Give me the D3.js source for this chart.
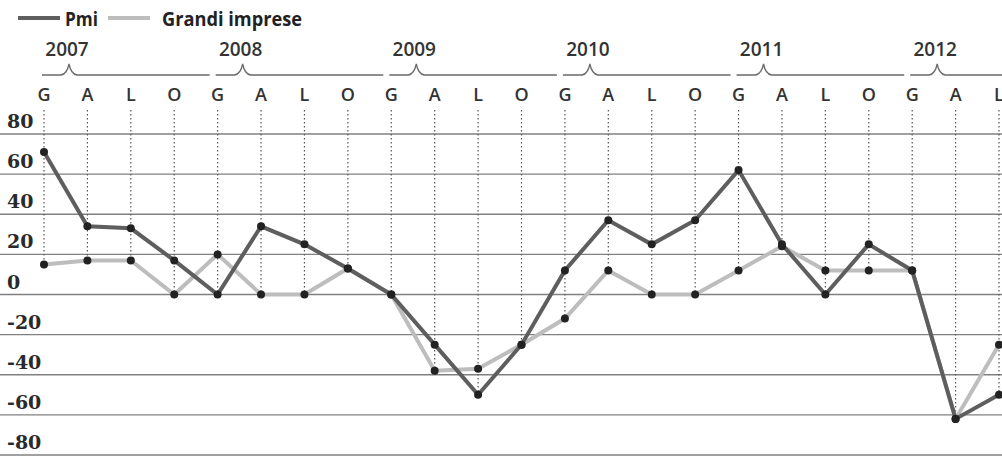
<!DOCTYPE html>
<html>
<head>
<meta charset="utf-8">
<script src="https://cdn.jsdelivr.net/npm/d3@7"></script>
<style>
  body { margin: 0; background: #fff; }
  svg { display: block; }
</style>
</head>
<body>
<div class="container"></div>
<script>
// Quarter letters (Gennaio, Aprile, Luglio, Ottobre) and years
const years = ["2007", "2008", "2009", "2010", "2011", "2012"];
const quarters = ["G", "A", "L", "O"];
const yTicks = [80, 60, 40, 20, 0, -20, -40, -60, -80];

// Values, one per quarter from G 2007 to L 2012
const pmi = [71, 34, 33, 17, 0, 34, 25, 13, 0, -25, -50, -25, 12, 37, 25, 37, 62, 25, 0, 25, 12, -62, -50];
const grandi = [15, 17, 17, 0, 20, 0, 0, 13, 0, -38, -37, -25, -12, 12, 0, 0, 12, 24, 12, 12, 12, -62, -25];

const width = 1002,
    height = 457;

const periods = pmi.map((d, i) => ({
    idx: i,
    label: quarters[i % 4],
    year: years[Math.floor(i / 4)],
    pmi: d,
    grandi: grandi[i]
}));

const svg = d3.select(".container")
    .append("svg")
    .attr("width", width)
    .attr("height", height);

const x = d3.scalePoint()
    .domain(periods.map(d => d.idx))
    .range([44, 999]);

const y = d3.scaleLinear()
    .domain([-80, 80])
    .range([455, 134]);

// horizontal grid lines + serif labels above them
const grid = svg.append("g");
grid.selectAll("line")
    .data(yTicks)
    .enter()
    .append("line")
    .attr("x1", 0)
    .attr("x2", width)
    .attr("y1", d => y(d))
    .attr("y2", d => y(d))
    .attr("stroke", "#808080")
    .attr("stroke-width", 1.3);

grid.selectAll("text")
    .data(yTicks)
    .enter()
    .append("text")
    .attr("x", 7)
    .attr("y", d => y(d) - 6)
    .attr("font-family", "DejaVu Serif")
    .attr("font-weight", "bold")
    .attr("font-size", 19)
    .attr("fill", "#2a2a2a")
    .text(d => d);

// vertical dotted lines, from the letters down to the lower point
svg.append("g")
    .selectAll("line")
    .data(periods)
    .enter()
    .append("line")
    .attr("x1", d => x(d.idx))
    .attr("x2", d => x(d.idx))
    .attr("y1", 110)
    .attr("y2", d => y(Math.min(d.pmi, d.grandi)))
    .attr("stroke", "#555")
    .attr("stroke-width", 1.2)
    .attr("stroke-dasharray", "1.5,2.5");

// quarter letters
svg.append("g")
    .selectAll("text")
    .data(periods)
    .enter()
    .append("text")
    .attr("x", d => x(d.idx))
    .attr("y", 101)
    .attr("text-anchor", "middle")
    .attr("font-family", "Open Sans")
    .attr("font-weight", 600)
    .attr("font-size", 18)
    .attr("fill", "#333")
    .text(d => d.label);

// year braces
const yearG = svg.append("g");
years.forEach((yr, i) => {
    const x0 = x(i * 4) - 2;
    const x1 = i < years.length - 1 ? x((i + 1) * 4) - 8 : width;
    const px = x(i * 4) + 25;
    const p = d3.path();
    p.moveTo(x0, 75);
    p.lineTo(px - 8, 75);
    p.quadraticCurveTo(px - 2, 74, px, 64);
    p.quadraticCurveTo(px + 2, 74, px + 8, 75);
    p.lineTo(x1, 75);
    yearG.append("path")
        .attr("d", p.toString())
        .attr("fill", "none")
        .attr("stroke", "#6a6a6a")
        .attr("stroke-width", 1.3);
    yearG.append("text")
        .attr("x", px - 2)
        .attr("y", 56)
        .attr("text-anchor", "middle")
        .attr("font-family", "Open Sans")
        .attr("font-weight", 600)
        .attr("font-size", 19)
        .attr("fill", "#333")
        .text(yr);
});

// lines
const line = key => d3.line()
    .x(d => x(d.idx))
    .y(d => y(d[key]));

svg.append("path")
    .datum(periods)
    .attr("d", line("grandi"))
    .attr("fill", "none")
    .attr("stroke", "#bdbdbd")
    .attr("stroke-width", 4);

svg.append("path")
    .datum(periods)
    .attr("d", line("pmi"))
    .attr("fill", "none")
    .attr("stroke", "#5e5e5e")
    .attr("stroke-width", 4);

// dots
["grandi", "pmi"].forEach(key => {
    svg.append("g")
        .selectAll("circle")
        .data(periods)
        .enter()
        .append("circle")
        .attr("cx", d => x(d.idx))
        .attr("cy", d => y(d[key]))
        .attr("r", 4)
        .attr("fill", "#222");
});

// legend
const legend = svg.append("g");
const legendItems = [
    { name: "Pmi", color: "#5e5e5e", sx: 18, tx: 65, len: 33 },
    { name: "Grandi imprese", color: "#bdbdbd", sx: 108, tx: 162, len: 140 }
];
legendItems.forEach(d => {
    legend.append("line")
        .attr("x1", d.sx)
        .attr("x2", d.sx + 42)
        .attr("y1", 18)
        .attr("y2", 18)
        .attr("stroke", d.color)
        .attr("stroke-width", 4);
    legend.append("text")
        .attr("x", d.tx)
        .attr("y", 26)
        .attr("font-family", "Open Sans")
        .attr("font-weight", "bold")
        .attr("font-size", 20)
        .attr("textLength", d.len)
        .attr("lengthAdjust", "spacingAndGlyphs")
        .attr("fill", "#222")
        .text(d.name);
});
</script>
</body>
</html>
